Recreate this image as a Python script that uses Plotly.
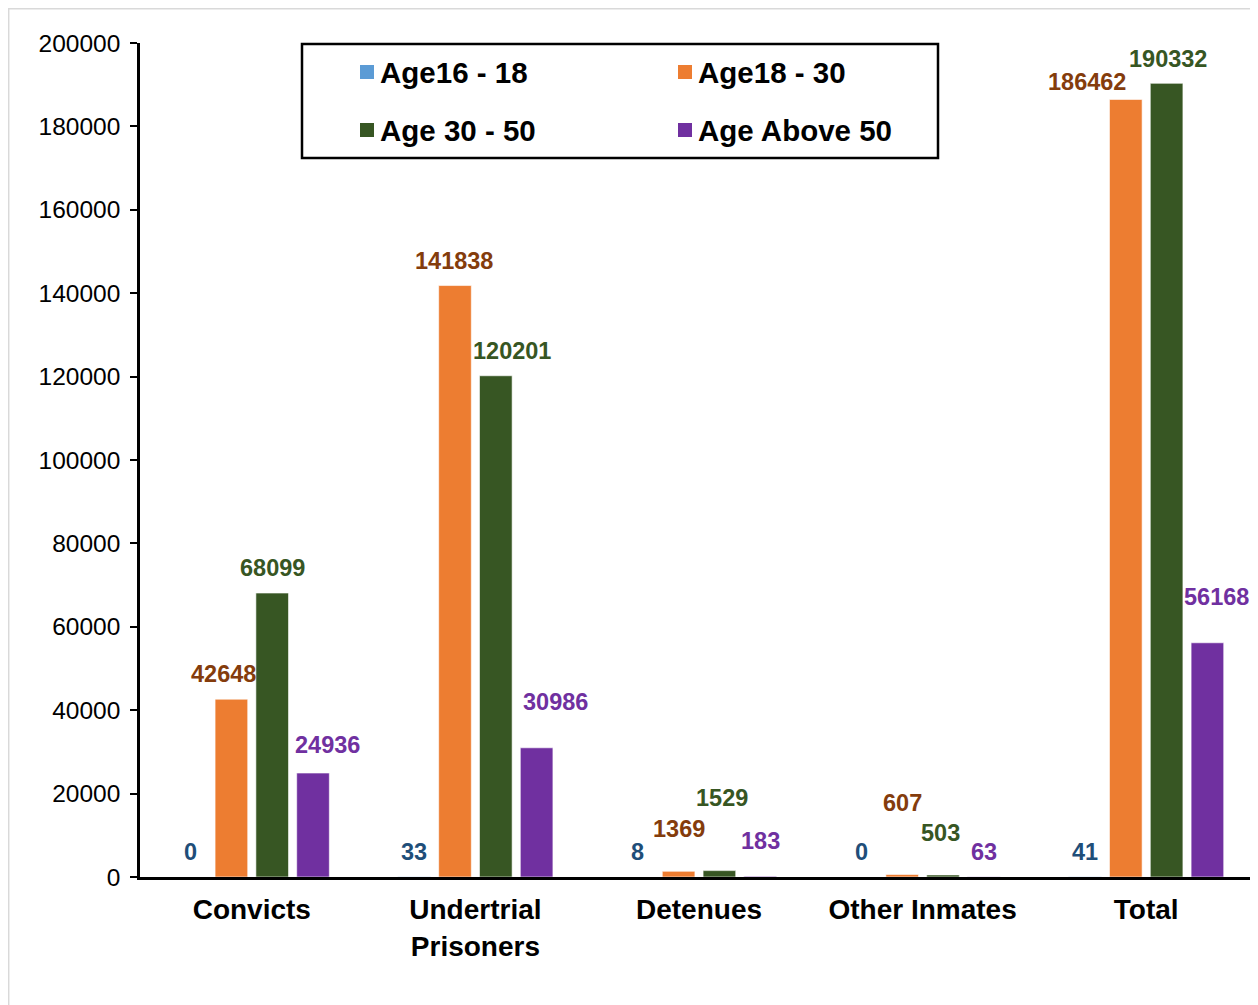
import plotly.graph_objects as go

categories = ["Convicts", "Undertrial<br>Prisoners", "Detenues", "Other Inmates", "Total"]
series_names = ["Age16 - 18", "Age18 - 30", "Age 30 - 50", "Age Above 50"]
age_16_18 = [0, 33, 8, 0, 41]
age_18_30 = [42648, 141838, 1369, 607, 186462]
age_30_50 = [68099, 120201, 1529, 503, 190332]
age_above_50 = [24936, 30986, 183, 63, 56168]
y_ticks = [0, 20000, 40000, 60000, 80000, 100000, 120000, 140000, 160000, 180000, 200000]

series_values = [age_16_18, age_18_30, age_30_50, age_above_50]
bar_colors = ["#5B9BD5", "#ED7D31", "#375623", "#7030A0"]
label_colors = ["#1F4E79", "#843C0C", "#375623", "#7030A0"]

# label placement tweaks (pixels): horizontal shift and height above bar top
label_dx = [
    [0, -8, 0, 14],
    [0, -1, 16, 19],
    [0, 0, 3, 0],
    [0, 0, -3, 0],
    [0, -39, 1, 9],
]
label_dy = [
    [25, 25, 25, 28],
    [25, 25, 25, 46],
    [25, 42, 73, 35],
    [25, 71, 42, 25],
    [25, 17, 24, 46],
]

# page has an 8px body margin; work in screen coordinates
OFF = 8
W, H = 1258 - OFF, 1005 - OFF
L, T = 140 - OFF, 43 - OFF
R = 0
B = H - (877 - OFF)
PW, PH = W - L - R, H - T - B


def px_x(x):
    return (x - OFF - L) / PW


def px_y(y):
    return (H - B - (y - OFF)) / PH


FONT = "Arial, Liberation Sans, sans-serif"
BARGAP, GROUPGAP = 0.27, 0.2

fig = go.Figure()
for name, vals, col in zip(series_names, series_values, bar_colors):
    fig.add_trace(go.Bar(
        name=name, x=categories, y=vals,
        marker=dict(color=col, line=dict(color="rgba(255,255,255,0.6)", width=1)),
        showlegend=False, hoverinfo="x+y+name",
    ))

n = len(series_names)
slot = (1 - BARGAP) / n
annotations = []
for i, cat in enumerate(categories):
    for j in range(n):
        off = (j - (n - 1) / 2) * slot
        annotations.append(dict(
            x=i + off, y=series_values[j][i], xref="x", yref="y",
            text=str(series_values[j][i]), showarrow=False,
            xanchor="center", yanchor="middle",
            xshift=label_dx[i][j], yshift=label_dy[i][j],
            font=dict(family=FONT, size=23.5, color=label_colors[j], weight="bold"),
        ))

# manual legend (two columns)
shapes = []
leg_box = (302, 44, 938, 158)
shapes.append(dict(type="rect", xref="paper", yref="paper",
                   x0=px_x(leg_box[0]), x1=px_x(leg_box[2]),
                   y0=px_y(leg_box[3]), y1=px_y(leg_box[1]),
                   line=dict(color="black", width=2.5), fillcolor="white", layer="above"))
leg_pos = [(360, 72), (678, 72), (360, 130), (678, 130)]
for (lx, ly), name, col in zip(leg_pos, series_names, bar_colors):
    shapes.append(dict(type="rect", xref="paper", yref="paper",
                       x0=px_x(lx), x1=px_x(lx + 14), y0=px_y(ly + 7), y1=px_y(ly - 7),
                       line=dict(width=0), fillcolor=col, layer="above"))
    annotations.append(dict(x=px_x(lx + 18), y=px_y(ly), xref="paper", yref="paper",
                            text=name, showarrow=False, xanchor="left", yanchor="middle",
                            font=dict(family=FONT, size=29.5, color="black", weight="bold")))

# outer light frame
shapes.append(dict(type="rect", xref="paper", yref="paper",
                   x0=px_x(8.7), x1=px_x(1275), y0=px_y(1020), y1=px_y(8.7),
                   line=dict(color="#D9D9D9", width=1.5), layer="below"))

fig.update_layout(
    width=W, height=H,
    margin=dict(l=L, r=R, t=T, b=B, autoexpand=False),
    paper_bgcolor="white", plot_bgcolor="white",
    barmode="group", bargap=BARGAP, bargroupgap=GROUPGAP,
    annotations=annotations, shapes=shapes,
    font=dict(family=FONT, color="black"),
    xaxis=dict(showline=True, linecolor="black", linewidth=2.5, ticks="",
               showgrid=False, tickfont=dict(size=28, weight="bold", color="black"),
               ticklabelstandoff=6),
    yaxis=dict(range=[0, 200000], tickvals=y_ticks, ticktext=[str(v) for v in y_ticks],
               showline=True, linecolor="black", linewidth=2.5, ticks="outside",
               ticklen=7, tickwidth=2, tickcolor="black", showgrid=False,
               zeroline=False, tickfont=dict(size=24.5, color="black"),
               ticklabelstandoff=5),
)

fig.write_html("out.html")
